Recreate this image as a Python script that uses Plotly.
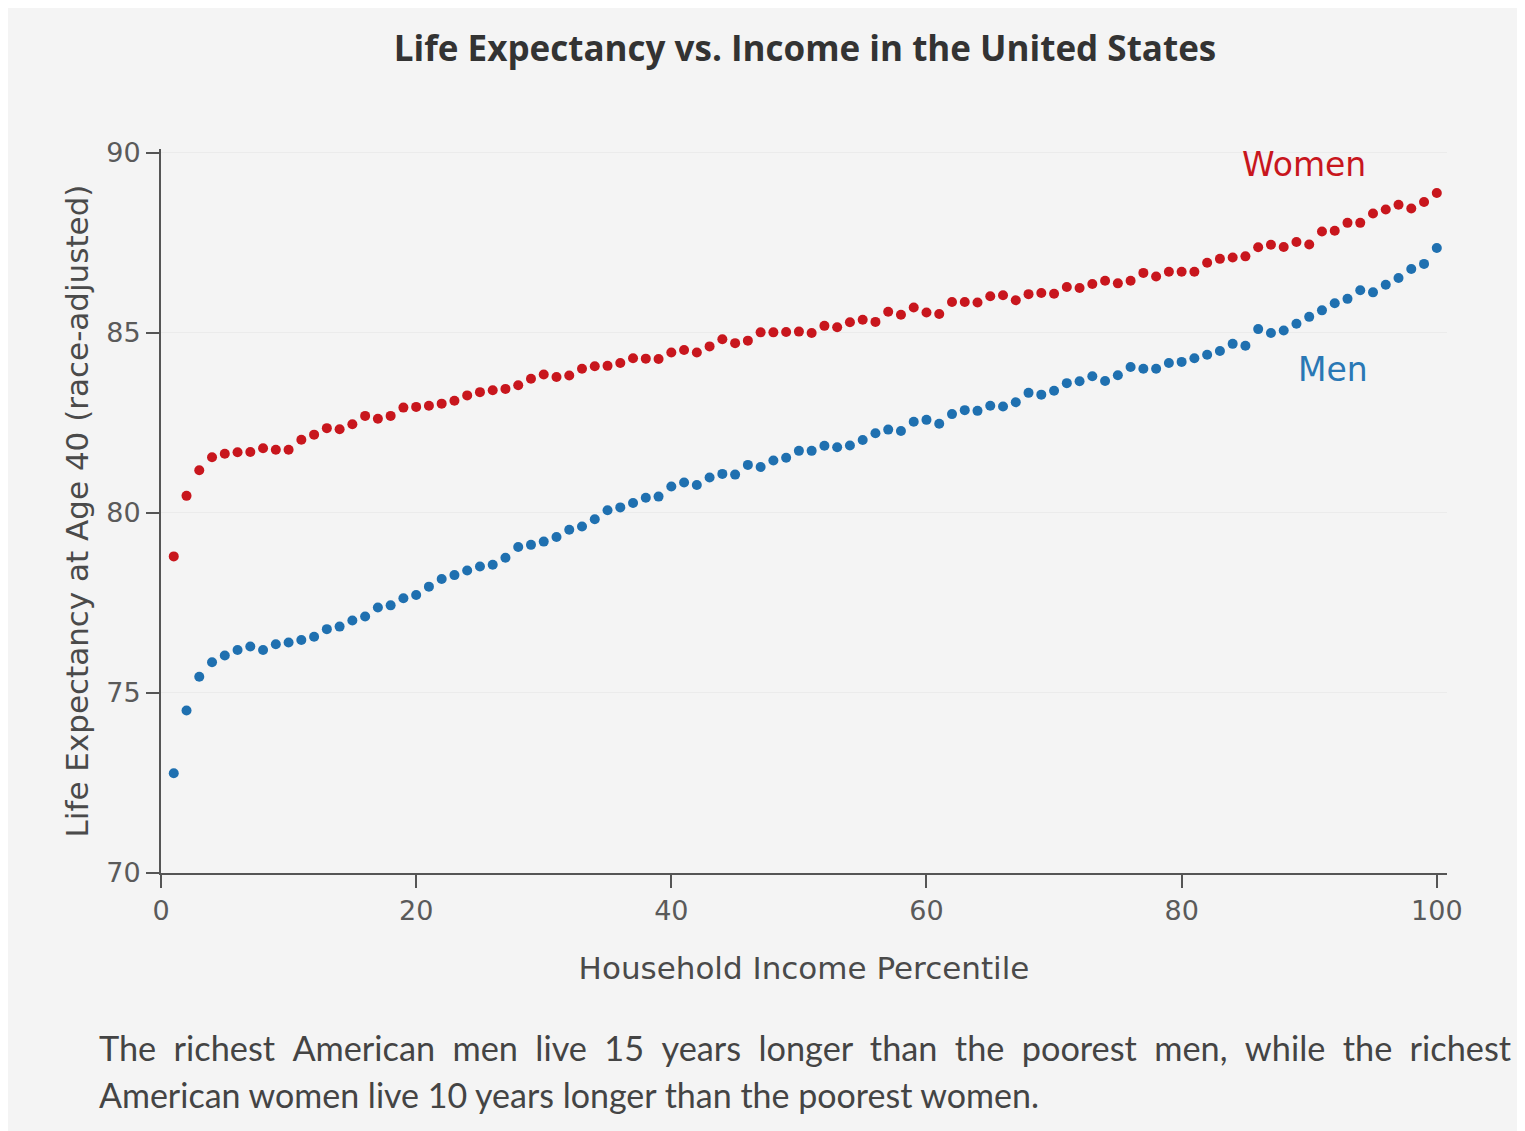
import plotly.graph_objects as go

percentile = list(range(1, 101))

women = [78.79, 80.47, 81.18, 81.54, 81.64, 81.68, 81.69, 81.79, 81.75, 81.75,
         82.03, 82.17, 82.35, 82.32, 82.46, 82.69, 82.61, 82.69, 82.92, 82.94,
         82.97, 83.03, 83.11, 83.26, 83.35, 83.40, 83.44, 83.54, 83.72, 83.84,
         83.77, 83.81, 84.00, 84.07, 84.08, 84.16, 84.29, 84.28, 84.27, 84.45,
         84.52, 84.45, 84.62, 84.82, 84.71, 84.78, 85.01, 85.01, 85.02, 85.03,
         84.99, 85.19, 85.15, 85.29, 85.36, 85.30, 85.58, 85.50, 85.70, 85.56,
         85.52, 85.85, 85.85, 85.84, 86.01, 86.04, 85.90, 86.07, 86.10, 86.08,
         86.27, 86.24, 86.35, 86.44, 86.37, 86.44, 86.66, 86.56, 86.69, 86.69,
         86.69, 86.94, 87.05, 87.09, 87.12, 87.37, 87.44, 87.38, 87.52, 87.45,
         87.81, 87.83, 88.05, 88.05, 88.31, 88.42, 88.55, 88.45, 88.63, 88.88]

men = [72.77, 74.51, 75.45, 75.85, 76.04, 76.19, 76.29, 76.19, 76.35, 76.40,
       76.47, 76.56, 76.77, 76.84, 77.01, 77.12, 77.37, 77.43, 77.63, 77.72,
       77.95, 78.16, 78.27, 78.40, 78.51, 78.56, 78.75, 79.05, 79.11, 79.20,
       79.33, 79.53, 79.62, 79.82, 80.07, 80.15, 80.27, 80.42, 80.45, 80.73,
       80.84, 80.77, 80.98, 81.08, 81.06, 81.33, 81.27, 81.45, 81.53, 81.72,
       81.72, 81.86, 81.82, 81.87, 82.02, 82.21, 82.31, 82.27, 82.53, 82.58,
       82.47, 82.74, 82.85, 82.83, 82.97, 82.95, 83.07, 83.33, 83.28, 83.39,
       83.60, 83.65, 83.79, 83.66, 83.82, 84.05, 84.00, 84.00, 84.16, 84.19,
       84.29, 84.39, 84.49, 84.69, 84.64, 85.10, 84.99, 85.06, 85.25, 85.44,
       85.62, 85.82, 85.94, 86.18, 86.12, 86.33, 86.52, 86.77, 86.91, 87.35]

x_ticks = [0, 20, 40, 60, 80, 100]
y_ticks = [70, 75, 80, 85, 90]

title_text = "Life Expectancy vs. Income in the United States"
x_title = "Household Income Percentile"
y_title = "Life Expectancy at Age 40 (race-adjusted)"
caption_line1 = "The richest American men live 15 years longer than the poorest men, while the richest"
caption_line2 = "American women live 10 years longer than the poorest women."

RED = "#c8161d"
BLUE = "#1f70b0"
BG = "#f4f4f4"
AXIS = "#555555"
AXFONT = "DejaVu Sans"
CAPFONT = "Lato"

fig = go.Figure()
fig.add_trace(go.Scatter(x=percentile, y=women, mode="markers", name="Women",
                         marker=dict(color=RED, size=10), showlegend=False))
fig.add_trace(go.Scatter(x=percentile, y=men, mode="markers", name="Men",
                         marker=dict(color=BLUE, size=10), showlegend=False))

fig.update_layout(
    width=1517, height=1123,
    paper_bgcolor=BG, plot_bgcolor=BG,
    margin=dict(l=153, r=78, t=141, b=258),
    font=dict(family=AXFONT, color="#555555", size=27),
    title=dict(text="<b>" + title_text + "</b>",
               x=0.5254, xanchor="center", y=0.964, yanchor="middle",
               font=dict(family="Open Sans", size=35, color="#333333")),
)
fig.update_xaxes(range=[0, 100.8], tickvals=x_ticks, ticks="outside", ticklen=13,
                 tickwidth=2, tickcolor=AXIS, showline=True, linecolor=AXIS,
                 linewidth=2, showgrid=False, zeroline=False,
                 tickfont=dict(size=27, color="#5a5a5a", family=AXFONT),
                 title=dict(text=x_title, standoff=32,
                            font=dict(size=31, color="#4a4a4a", family=AXFONT)))
fig.update_yaxes(range=[70, 90.1], tickvals=y_ticks, ticks="outside", ticklen=13,
                 tickwidth=2, tickcolor=AXIS, showline=True, linecolor=AXIS,
                 linewidth=2, showgrid=True, gridcolor="#ebebeb", gridwidth=1,
                 zeroline=False,
                 tickfont=dict(size=27, color="#5a5a5a", family=AXFONT),
                 title=dict(text=y_title, standoff=8,
                            font=dict(size=31, color="#4a4a4a", family=AXFONT)))

fig.add_annotation(x=89.6, y=89.67, text="Women", showarrow=False, xref="x", yref="y",
                   font=dict(size=33, color=RED, family=AXFONT))
fig.add_annotation(x=91.9, y=83.97, text="Men", showarrow=False, xref="x", yref="y",
                   font=dict(size=33, color="#2a78b5", family=AXFONT))

wide_gap = " \u2005"
fig.add_annotation(x=-0.0497, y=-0.2417, xref="paper", yref="paper", xanchor="left",
                   yanchor="middle", showarrow=False, align="left",
                   text=wide_gap.join(caption_line1.split(" ")),
                   font=dict(size=34.3, color="#444444", family=CAPFONT))
fig.add_annotation(x=-0.0497, y=-0.3066, xref="paper", yref="paper", xanchor="left",
                   yanchor="middle", showarrow=False, align="left",
                   text=caption_line2,
                   font=dict(size=34, color="#444444", family=CAPFONT))

fig.write_html("out.html")
